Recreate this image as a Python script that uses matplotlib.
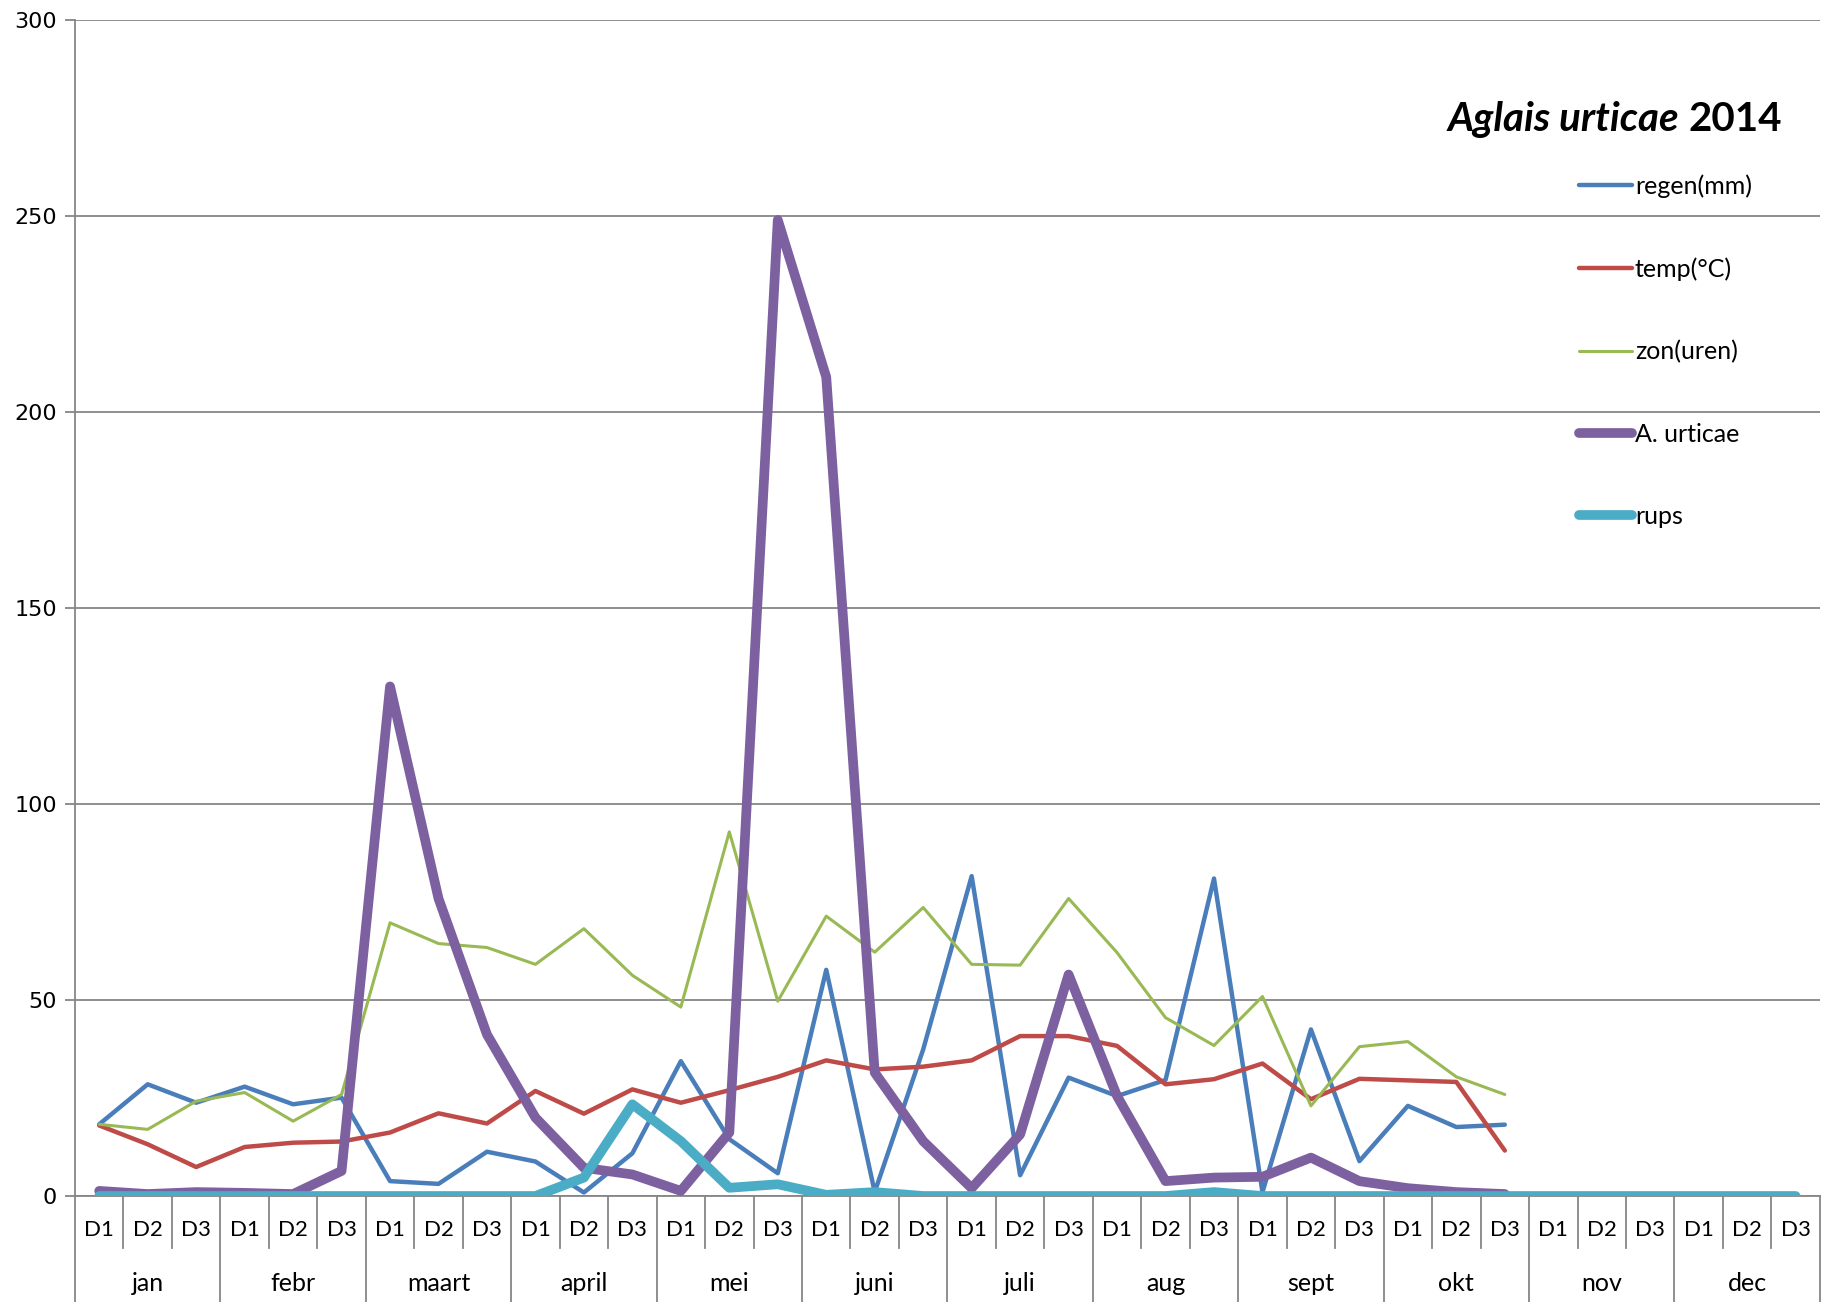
import matplotlib
matplotlib.use("Agg")
import matplotlib.pyplot as plt

# decades (D1-D3) per month
months = ["jan", "febr", "maart", "april", "mei", "juni", "juli", "aug", "sept", "okt", "nov", "dec"]
decades = ["D1", "D2", "D3"]

regen = [18.3, 28.5, 23.8, 27.9, 23.4, 25.1, 3.8, 3.1, 11.3, 8.8, 0.9, 10.9,
         34.4, 14.5, 5.8, 57.7, 1.0, 37.4, 81.6, 5.3, 30.2, 25.5, 29.6, 81.0,
         1.0, 42.5, 8.9, 23.0, 17.6, 18.2]
temp = [18.0, 13.2, 7.4, 12.5, 13.6, 13.9, 16.2, 21.1, 18.5, 26.8, 21.0, 27.2,
        23.8, 27.0, 30.4, 34.6, 32.3, 33.0, 34.6, 40.8, 40.8, 38.3, 28.5, 29.8,
        33.8, 24.7, 29.9, 29.5, 29.1, 11.6]
zon = [18.3, 17.0, 24.2, 26.4, 19.1, 25.9, 69.7, 64.4, 63.4, 59.1, 68.2, 56.3,
       48.2, 92.9, 49.7, 71.4, 62.2, 73.6, 59.1, 58.9, 75.9, 62.1, 45.5, 38.4,
       50.9, 23.0, 38.1, 39.4, 30.4, 25.9]
urticae = [1.3, 0.5, 1.0, 0.8, 0.5, 6.4, 130.0, 75.9, 41.2, 20.0, 7.2, 5.5,
           1.3, 16.2, 249.0, 208.9, 31.5, 14.0, 2.0, 15.7, 56.5, 25.5, 3.8, 4.7,
           4.9, 9.8, 3.8, 2.0, 1.0, 0.5]
rups = [0, 0, 0, 0, 0, 0, 0, 0, 0, 0, 4.7, 23.4,
        14.0, 2.1, 3.0, 0.3, 1.0, 0, 0, 0, 0, 0, 0, 1.0,
        0, 0, 0, 0, 0, 0, 0, 0, 0, 0, 0, 0]

series = [
    ("regen(mm)", regen, "#4A7EBB", 3.2),
    ("temp(°C)", temp, "#BE4B48", 3.2),
    ("zon(uren)", zon, "#98B954", 2.2),
    ("A. urticae", urticae, "#7D60A0", 7.0),
    ("rups", rups, "#4BACC6", 7.0),
]

tick_font = ["Liberation Sans Narrow", "Lato", "DejaVu Sans"]
grey = "#868686"

fig = plt.figure(figsize=(18.29, 13.02), dpi=100)
ax = fig.add_axes([0.041, 0.0814, 0.954, 0.9032])

for label, vals, color, lw in series:
    ax.plot(range(len(vals)), vals, color=color, lw=lw, label=label,
            solid_joinstyle="round", solid_capstyle="round", zorder=3)

ax.set_xlim(-0.5, 35.5)
ax.set_ylim(0, 300)
ax.set_yticks(range(0, 301, 50))
ax.set_yticklabels([str(v) for v in range(0, 301, 50)], family="DejaVu Sans", fontsize=16)
ax.tick_params(axis="y", length=7, width=1.3, color=grey, pad=6)
ax.set_xticks([])
ax.grid(axis="y", color=grey, lw=1.3)
ax.set_axisbelow(True)
for s in ["top", "right"]:
    ax.spines[s].set_visible(False)
ax.spines["bottom"].set_color(grey)
ax.spines["bottom"].set_linewidth(1.3)
ax.spines["left"].set_color(grey)
ax.spines["left"].set_linewidth(1.3)
ax.spines["left"].set_bounds(0, 300)

# two-level category axis
xt = ax.get_xaxis_transform()
for i in range(37):
    x = i - 0.5
    ybot = -0.092 if i % 3 == 0 else -0.044
    ax.plot([x, x], [0, ybot], transform=xt, clip_on=False, color=grey, lw=1.3)
for i in range(36):
    ax.text(i, -0.029, decades[i % 3], transform=xt, ha="center", va="center",
            fontsize=16, family=tick_font)
for m, name in enumerate(months):
    ax.text(3 * m + 1, -0.0745, name, transform=xt, ha="center", va="center",
            fontsize=18, family=tick_font)

leg = ax.legend(loc="upper left", bbox_to_anchor=(0.8563, 0.8755), bbox_transform=fig.transFigure,
                frameon=False, handlelength=2.15, handletextpad=0.1, labelspacing=2.37,
                borderpad=0, prop={"family": "Lato", "size": 18})

# title: italic species name + bold year
fig.canvas.draw()
year = fig.text(0.9743, 0.9086, "2014", ha="right", va="center",
                fontsize=29, fontweight="bold", family="Lato")
fig.canvas.draw()
bb = year.get_window_extent()
fig.text(bb.x0 / fig.bbox.width, 0.9086, "Aglais urticae ", ha="right", va="center",
         fontsize=29, fontweight="bold", fontstyle="italic", family="Lato")

fig.savefig("out.png", dpi=100)
